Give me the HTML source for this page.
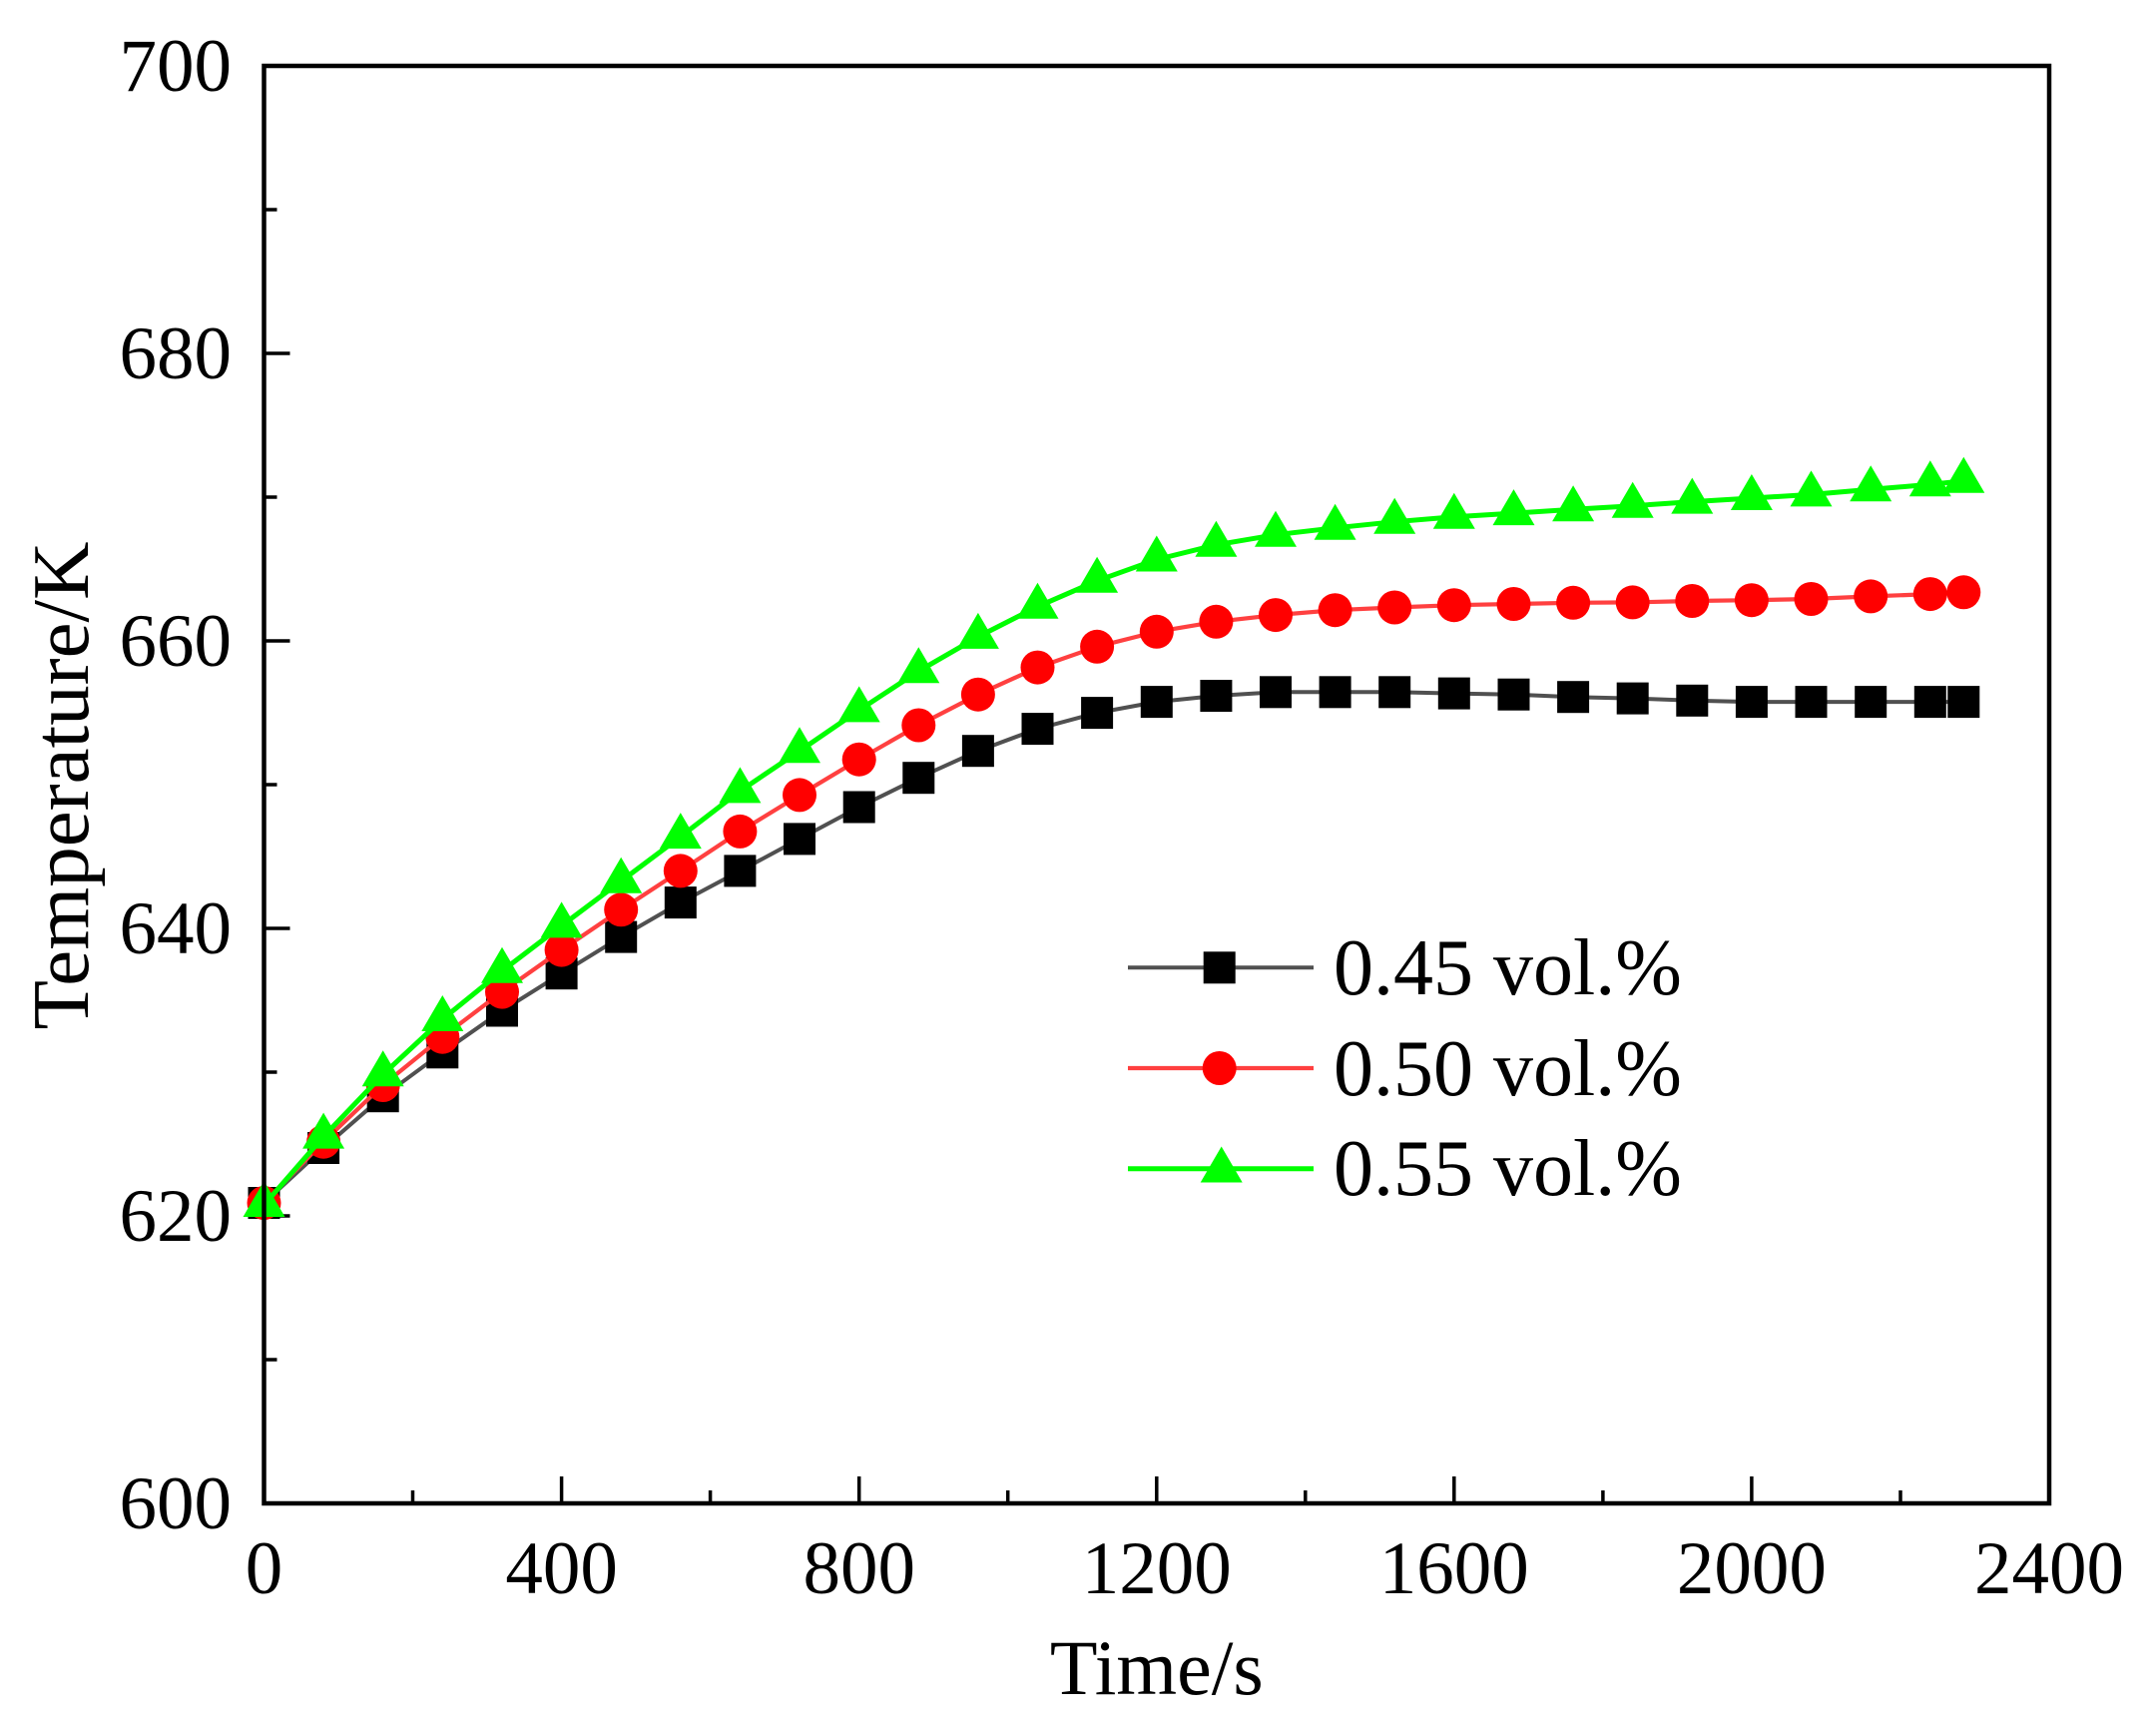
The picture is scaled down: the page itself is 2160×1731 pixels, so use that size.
<!DOCTYPE html>
<html>
<head>
<meta charset="utf-8">
<style>
html,body{margin:0;padding:0;background:#fff;}
body{width:2160px;height:1731px;overflow:hidden;}
svg{display:block;}
text{font-family:"Liberation Serif","Times New Roman",serif;fill:#000;}
</style>
</head>
<body>
<svg width="2160" height="1731" viewBox="0 0 2160 1731" xmlns="http://www.w3.org/2000/svg">
<defs>
  <marker id="sq" markerUnits="userSpaceOnUse" markerWidth="40" markerHeight="40" refX="0" refY="0" overflow="visible">
    <rect x="-16" y="-16" width="32" height="32" fill="#000"/>
  </marker>
  <marker id="ci" markerUnits="userSpaceOnUse" markerWidth="40" markerHeight="40" refX="0" refY="0" overflow="visible">
    <circle cx="0" cy="0" r="17" fill="#ff0000"/>
  </marker>
  <marker id="tr" markerUnits="userSpaceOnUse" markerWidth="50" markerHeight="50" refX="0" refY="0" overflow="visible">
    <path d="M0,-24 L21,12 L-21,12 Z" fill="#00ff00"/>
  </marker>
</defs>
<rect width="2160" height="1731" fill="#fff"/>

<!-- ticks -->
<g stroke="#000" stroke-width="3.5">
  <!-- x major -->
  <line x1="562.6" y1="1506" x2="562.6" y2="1479"/>
  <line x1="860.7" y1="1506" x2="860.7" y2="1479"/>
  <line x1="1158.8" y1="1506" x2="1158.8" y2="1479"/>
  <line x1="1456.8" y1="1506" x2="1456.8" y2="1479"/>
  <line x1="1754.9" y1="1506" x2="1754.9" y2="1479"/>
  <!-- x minor -->
  <line x1="413.5" y1="1506" x2="413.5" y2="1493"/>
  <line x1="711.6" y1="1506" x2="711.6" y2="1493"/>
  <line x1="1009.7" y1="1506" x2="1009.7" y2="1493"/>
  <line x1="1307.8" y1="1506" x2="1307.8" y2="1493"/>
  <line x1="1605.9" y1="1506" x2="1605.9" y2="1493"/>
  <line x1="1904" y1="1506" x2="1904" y2="1493"/>
  <!-- y major -->
  <line x1="264.5" y1="354" x2="290.5" y2="354"/>
  <line x1="264.5" y1="642" x2="290.5" y2="642"/>
  <line x1="264.5" y1="930" x2="290.5" y2="930"/>
  <line x1="264.5" y1="1218" x2="290.5" y2="1218"/>
  <!-- y minor -->
  <line x1="264.5" y1="210" x2="277.5" y2="210"/>
  <line x1="264.5" y1="498" x2="277.5" y2="498"/>
  <line x1="264.5" y1="786" x2="277.5" y2="786"/>
  <line x1="264.5" y1="1074" x2="277.5" y2="1074"/>
  <line x1="264.5" y1="1362" x2="277.5" y2="1362"/>
</g>

<!-- series: black 0.45 -->
<polyline fill="none" stroke="#505050" stroke-width="4" stroke-linejoin="round"
 marker-start="url(#sq)" marker-mid="url(#sq)" marker-end="url(#sq)"
 points="264.5,1205 324.1,1150 383.7,1098.2 443.3,1054.3 503,1012.5 562.6,975.2 622.2,938.6 681.8,904.1 741.4,872.4 801,840.4 860.7,808.5 920.3,779.2 979.9,752.2 1039.5,730.1 1099.1,714.1 1158.8,703.1 1218.4,697 1278,693.3 1337.6,693.3 1397.2,693.3 1456.8,694.6 1516.5,695.7 1576.1,698.2 1635.7,699.6 1695.3,701.8 1754.9,703.1 1814.5,703.1 1874.2,703.1 1933.8,703.1 1967.3,703.1"/>

<!-- series: red 0.50 -->
<polyline fill="none" stroke="#ff4040" stroke-width="4.2" stroke-linejoin="round"
 marker-start="url(#ci)" marker-mid="url(#ci)" marker-end="url(#ci)"
 points="264.5,1205 324.1,1143.7 383.7,1087 443.3,1038.7 503,993.6 562.6,951.6 622.2,911.3 681.8,872.4 741.4,832.9 801,796.4 860.7,760.7 920.3,726.5 979.9,695.7 1039.5,668.6 1099.1,647.8 1158.8,632.8 1218.4,622.8 1278,616.1 1337.6,611.2 1397.2,608.5 1456.8,606.2 1516.5,605 1576.1,603.8 1635.7,603.4 1695.3,602 1754.9,601.2 1814.5,600 1874.2,597.4 1933.8,595.1 1967.3,593.3"/>

<!-- series: green 0.55 -->
<polyline fill="none" stroke="#00ff00" stroke-width="5" stroke-linejoin="round"
 marker-start="url(#tr)" marker-mid="url(#tr)" marker-end="url(#tr)"
 points="264.5,1207 324.1,1138.6 383.7,1076.3 443.3,1021 503,972.7 562.6,927.4 622.2,882.7 681.8,838.1 741.4,792.4 801,752.3 860.7,711.4 920.3,672.3 979.9,637.9 1039.5,607.7 1099.1,581.8 1158.8,560.5 1218.4,545.8 1278,535.7 1337.6,528.8 1397.2,522.7 1456.8,517.7 1516.5,514.1 1576.1,510.3 1635.7,506.7 1695.3,502.6 1754.9,499 1814.5,495.4 1874.2,490.3 1933.8,485.3 1967.3,481.7"/>

<!-- axes frame -->
<rect x="264.5" y="66" width="1788.5" height="1440" fill="none" stroke="#000" stroke-width="4.5"/>

<!-- tick labels -->
<g font-size="75" text-anchor="middle">
  <text x="264.5" y="1596">0</text>
  <text x="562.6" y="1596">400</text>
  <text x="860.7" y="1596">800</text>
  <text x="1158.8" y="1596">1200</text>
  <text x="1456.8" y="1596">1600</text>
  <text x="1754.9" y="1596">2000</text>
  <text x="2053" y="1596">2400</text>
</g>
<g font-size="75" text-anchor="end">
  <text x="232" y="91">700</text>
  <text x="232" y="379">680</text>
  <text x="232" y="667">660</text>
  <text x="232" y="955">640</text>
  <text x="232" y="1243">620</text>
  <text x="232" y="1531">600</text>
</g>

<!-- axis titles -->
<text x="1158.8" y="1697" font-size="78" text-anchor="middle">Time/s</text>
<text transform="translate(88,787) rotate(-90)" font-size="81" text-anchor="middle">Temperature/K</text>

<!-- legend -->
<line x1="1130" y1="969.3" x2="1316" y2="969.3" stroke="#505050" stroke-width="4"/>
<rect x="1205.7" y="953.3" width="32" height="32" fill="#000"/>
<line x1="1130" y1="1070" x2="1316" y2="1070" stroke="#ff4040" stroke-width="4.2"/>
<circle cx="1221.7" cy="1070" r="17" fill="#ff0000"/>
<line x1="1130" y1="1170.7" x2="1316" y2="1170.7" stroke="#00ff00" stroke-width="5"/>
<path d="M1223.7,1148.5 L1244.7,1184.5 L1202.7,1184.5 Z" fill="#00ff00"/>
<g font-size="80">
  <text x="1336" y="996">0.45 vol.%</text>
  <text x="1336" y="1097">0.50 vol.%</text>
  <text x="1336" y="1197">0.55 vol.%</text>
</g>
</svg>
</body>
</html>
